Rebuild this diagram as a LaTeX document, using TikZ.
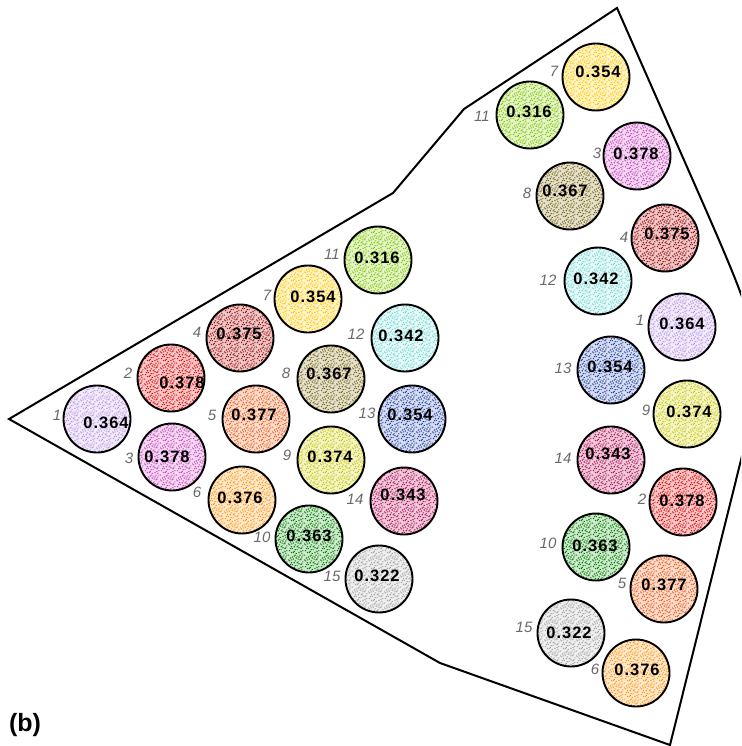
\documentclass[tikz,border=0pt]{standalone}
\usepackage{fontspec}
\setmainfont{Liberation Sans}
\newfontfamily\valfont[LetterSpace=6]{Liberation Sans}
\usetikzlibrary{patterns}

\pgfdeclarepatternformonly{stipple}{\pgfqpoint{0pt}{0pt}}{\pgfqpoint{16pt}{16pt}}{\pgfqpoint{16pt}{16pt}}{%
  \foreach \p/\q in {1/3,5/1,9/4,13/2,3/7,7/9,11/6,15/8,2/12,6/14,10/11,14/13,0/15,4/5,8/0,12/10,1/9,5/11,9/14,13/5,3/1,7/4,11/13,15/15,6/7,10/8,14/0,2/5,8/12,12/15,0/10,4/13,15/3,9/7,13/11,6/2,11/1,3/10,7/15,14/6}{%
    \pgfpathrectangle{\pgfpoint{\p pt}{\q pt}}{\pgfpoint{1.2pt}{1.2pt}}}%
  \pgfusepath{fill}}

\definecolor{d1}{RGB}{185,150,230}
\definecolor{d2}{RGB}{225,10,10}
\definecolor{d3}{RGB}{200,70,190}
\definecolor{d4}{RGB}{165,10,10}
\definecolor{d5}{RGB}{240,90,20}
\definecolor{d6}{RGB}{255,150,20}
\definecolor{d7}{RGB}{255,200,0}
\definecolor{d8}{RGB}{125,105,20}
\definecolor{d9}{RGB}{200,200,0}
\definecolor{d10}{RGB}{0,130,0}
\definecolor{d11}{RGB}{130,200,0}
\definecolor{d12}{RGB}{110,215,210}
\definecolor{d13}{RGB}{40,70,170}
\definecolor{d14}{RGB}{180,20,90}
\definecolor{d15}{RGB}{165,165,165}
\colorlet{f1}{d1!18!white}
\colorlet{f2}{d2!22!white}
\colorlet{f3}{d3!20!white}
\colorlet{f4}{d4!22!white}
\colorlet{f5}{d5!20!white}
\colorlet{f6}{d6!20!white}
\colorlet{f7}{d7!20!white}
\colorlet{f8}{d8!20!white}
\colorlet{f9}{d9!20!white}
\colorlet{f10}{d10!18!white}
\colorlet{f11}{d11!20!white}
\colorlet{f12}{d12!15!white}
\colorlet{f13}{d13!18!white}
\colorlet{f14}{d14!22!white}
\colorlet{f15}{d15!18!white}
\definecolor{labgray}{RGB}{105,105,105}

\expandafter\def\csname vv1\endcsname{0.364}
\expandafter\def\csname vv2\endcsname{0.378}
\expandafter\def\csname vv3\endcsname{0.378}
\expandafter\def\csname vv4\endcsname{0.375}
\expandafter\def\csname vv5\endcsname{0.377}
\expandafter\def\csname vv6\endcsname{0.376}
\expandafter\def\csname vv7\endcsname{0.354}
\expandafter\def\csname vv8\endcsname{0.367}
\expandafter\def\csname vv9\endcsname{0.374}
\expandafter\def\csname vv10\endcsname{0.363}
\expandafter\def\csname vv11\endcsname{0.316}
\expandafter\def\csname vv12\endcsname{0.342}
\expandafter\def\csname vv13\endcsname{0.354}
\expandafter\def\csname vv14\endcsname{0.343}
\expandafter\def\csname vv15\endcsname{0.322}

\tikzset{
  fa/.style={circle, draw=black, line width=1.9pt, minimum size=67pt, inner sep=0pt, pattern=stipple},
  val/.style={inner sep=0pt, font=\valfont\bfseries\fontsize{16.5}{17}\selectfont, text=black},
  lab/.style={inner sep=0pt, font=\itshape\fontsize{15}{16}\selectfont, text=labgray},
  outline/.style={line width=2pt, line join=miter}
}

\begin{document}
\begin{tikzpicture}[x=1pt, y=-1pt]
\useasboundingbox (0,0) rectangle (741,746);
\fill[white] (0,0) rectangle (741,746);
\begin{scope}
\clip (0,0) rectangle (741,746);
\draw[outline] (9,419) -- (393,193) -- (464,109) -- (617,8) -- (691,176)
  .. controls (768.8,352.9) .. (741,460) -- (670,745) -- (440,663) -- cycle;
\end{scope}

% left group: n / x / y / text dx / text dy / label x / label y
\foreach \n/\x/\y/\dx/\dy/\lx/\ly in {
  1/97/419/9/4/57/415, 2/171/378/11/5/128/373, 3/172/457/-5/0/129/458,
  4/240/338/-1/-4/197/332, 5/256/419/-2/-4/212/415, 6/242/500/-2/-2/197/492,
  7/308/299/5/-2/267/295, 8/331/379/-2/-5/286/373, 9/331/460/-1/-3/287/455,
  10/309/539/0/-3/262/537, 11/378/260/-1/-2/332/254, 12/405/338/-4/-2/356/334,
  13/412/419/-2/-4/367/413, 14/404/501/-1/-6/355/499, 15/379/579/-2/-3/332/576}{
  \node[fa, preaction={fill=f\n}, pattern color=d\n] (L\n) at (\x,\y) {};
  \node[val] (Lv\n) at ([shift={(\dx,\dy)}]L\n.center) {\csname vv\n\endcsname};
  \node[lab] (Ll\n) at (\lx,\ly) {\n};
}

% right group
\foreach \n/\x/\y/\dx/\dy/\lx/\ly in {
  7/596/77/2/-5/554/71, 11/530/115/-1/-3/482/116, 3/637/156/-1/-2/597/153,
  8/570/196/-5/-5/527/193, 4/665/238/2/-4/624/237, 12/598/281/-2/-2/548/280,
  1/682/327/0/-3/640/320, 13/611/370/-1/-3/563/368, 9/687/414/2/-2/646/410,
  14/611/460/-3/-6/563/458, 2/683/502/-1/-1/642/499, 10/596/547/-1/-1/548/543,
  5/664/589/0/-4/622/583, 15/571/633/-2/0/524/627, 6/636/673/1/-3/595/669}{
  \node[fa, preaction={fill=f\n}, pattern color=d\n] (R\n) at (\x,\y) {};
  \node[val] (Rv\n) at ([shift={(\dx,\dy)}]R\n.center) {\csname vv\n\endcsname};
  \node[lab] (Rl\n) at (\lx,\ly) {\n};
}

\node[inner sep=0pt, font=\bfseries\fontsize{25}{26}\selectfont] (tag) at (25,725) {(b)};
\end{tikzpicture}
\end{document}
